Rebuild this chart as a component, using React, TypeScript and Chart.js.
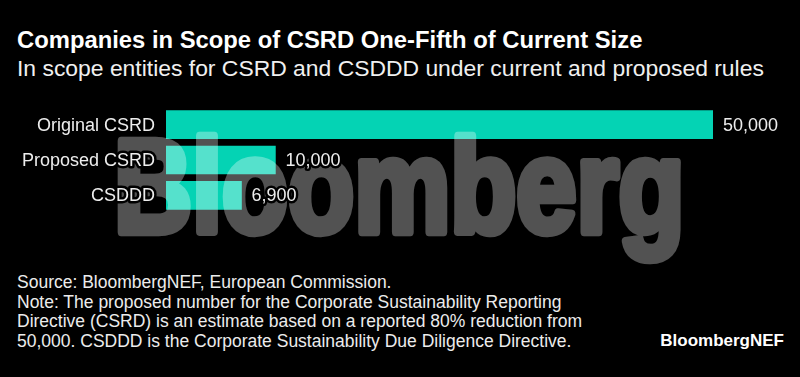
import React, { useEffect, useRef } from "react";
import { Chart, registerables } from "chart.js";

Chart.register(...registerables);

const categories = ["Original CSRD", "Proposed CSRD", "CSDDD"];
const entities = [50000, 10000, 6900];
const valueLabels = ["50,000", "10,000", "6,900"];

const title = "Companies in Scope of CSRD One-Fifth of Current Size";
const subtitle = "In scope entities for CSRD and CSDDD under current and proposed rules";
const footerLines = [
  "Source: BloombergNEF, European Commission.",
  "Note: The proposed number for the Corporate Sustainability Reporting",
  "Directive (CSRD) is an estimate based on a reported 80% reduction from",
  "50,000. CSDDD is the Corporate Sustainability Due Diligence Directive.",
];
const brand = "BloombergNEF";
const watermark = "Bloomberg";

const FONT = "'Liberation Sans', Arial, Helvetica, sans-serif";
const BAR = "#04d3b4";

export default function App() {
  const ref = useRef<HTMLCanvasElement | null>(null);

  useEffect(() => {
    document.body.style.margin = "0";
    document.body.style.background = "#000";
    const canvas = ref.current;
    if (!canvas) return;

    const overlay = {
      id: "overlay",
      afterDatasetsDraw(chart: any) {
        const ctx = chart.ctx;
        const area = chart.chartArea;
        const off = document.createElement("canvas");
        off.width = 800;
        off.height = 200;
        const o = off.getContext("2d")!;
        o.font = `bold 132px ${FONT}`;
        const m = o.measureText(watermark);
        const inkW = m.actualBoundingBoxLeft + m.actualBoundingBoxRight;
        const stroke = 7;
        const targetW = 564 - stroke;
        const sx = targetW / inkW;
        o.save();
        o.translate(stroke / 2 + 2, 0);
        o.scale(sx, 1);
        o.fillStyle = "#fff";
        o.strokeStyle = "#fff";
        o.lineWidth = stroke / sx;
        o.lineJoin = "round";
        o.textBaseline = "alphabetic";
        o.fillText(watermark, m.actualBoundingBoxLeft, 130);
        o.strokeText(watermark, m.actualBoundingBoxLeft, 130);
        o.restore();
        ctx.save();
        ctx.globalAlpha = 0.32;
        // ink starts at area.left - 49 (page x ≈ 117), baseline ≈ page y 232
        ctx.drawImage(off, area.left - 51, area.top + 125 - 130);
        ctx.restore();
      },
      afterDraw(chart: any) {
        const ctx = chart.ctx;
        const yScale = chart.scales.y;
        const meta = chart.getDatasetMeta(0);
        ctx.save();
        ctx.font = `18px ${FONT}`;
        ctx.textBaseline = "middle";
        ctx.lineJoin = "round";
        ctx.lineWidth = 5;
        ctx.strokeStyle = "#000";
        ctx.fillStyle = "#ededed";
        ctx.textAlign = "right";
        yScale.ticks.forEach((t: any, i: number) => {
          const y = yScale.getPixelForTick(i);
          const label = categories[t.value] ?? String(t.label);
          const x = chart.chartArea.left - 11;
          ctx.strokeText(label, x, y + 1);
          ctx.fillText(label, x, y + 1);
        });
        ctx.textAlign = "left";
        meta.data.forEach((bar: any, i: number) => {
          const x = bar.x + 10;
          ctx.strokeText(valueLabels[i], x, bar.y + 1);
          ctx.fillText(valueLabels[i], x, bar.y + 1);
        });
        ctx.restore();
      },
    };

    const chart = new Chart(canvas, {
      type: "bar",
      data: {
        labels: categories,
        datasets: [
          {
            data: entities,
            backgroundColor: BAR,
            borderWidth: 0,
            barThickness: 28,
          },
        ],
      },
      options: {
        indexAxis: "y",
        animation: false,
        responsive: false,
        maintainAspectRatio: false,
        layout: { padding: { top: 17, bottom: 52, right: 87, left: 0 } },
        plugins: {
          legend: { display: false },
          tooltip: { enabled: false },
          title: { display: false },
        },
        scales: {
          x: {
            min: 0,
            max: 50000,
            display: false,
          },
          y: {
            grid: { display: false, drawTicks: false },
            border: { display: false },
            ticks: { color: "rgba(0,0,0,0)", font: { size: 18, family: FONT }, padding: 0 },
            afterFit(scale: any) {
              scale.width = 166;
            },
          },
        },
      },
      plugins: [overlay],
    });
    return () => chart.destroy();
  }, []);

  return (
    <div style={{ position: "relative", width: 800, height: 377, background: "#000", overflow: "hidden", fontFamily: FONT }}>
      <div style={{ position: "absolute", left: 17, top: 28, fontSize: 23.8, lineHeight: "24px", fontWeight: "bold", color: "#fff", whiteSpace: "nowrap" }}>
        {title}
      </div>
      <div style={{ position: "absolute", left: 17, top: 56, fontSize: 22.9, lineHeight: "24px", color: "#f0f0f0", whiteSpace: "nowrap" }}>
        {subtitle}
      </div>
      <canvas ref={ref} width={800} height={175} style={{ position: "absolute", left: 0, top: 90, width: 800, height: 175 }} />
      <div style={{ position: "absolute", left: 17, top: 273, fontSize: 17.5, lineHeight: "19.5px", color: "#ececec", whiteSpace: "nowrap" }}>
        {footerLines.map((l, i) => (
          <div key={i}>{l}</div>
        ))}
      </div>
      <div style={{ position: "absolute", right: 16, top: 331, fontSize: 17, lineHeight: "20px", fontWeight: "bold", color: "#fff", whiteSpace: "nowrap" }}>
        {brand}
      </div>
    </div>
  );
}
